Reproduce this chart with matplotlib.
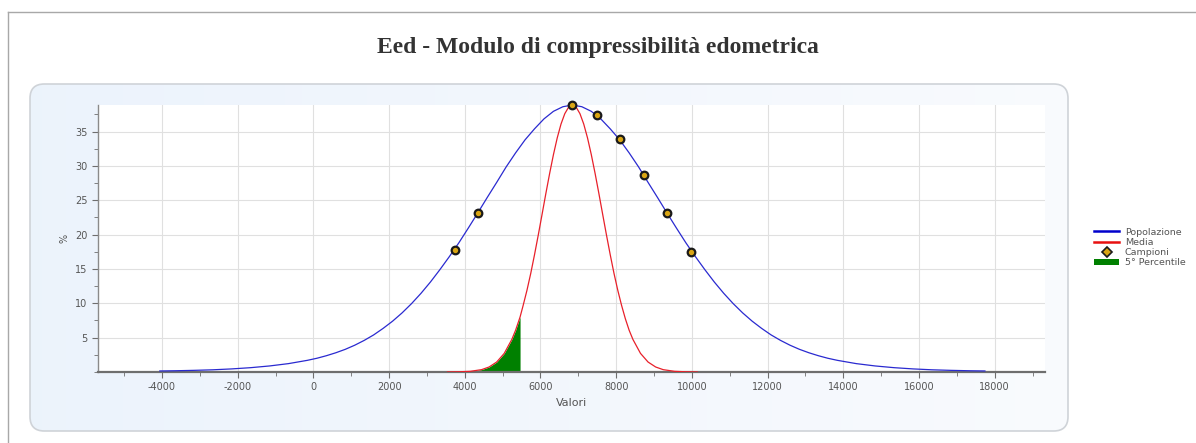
import numpy as np
import matplotlib
matplotlib.use("Agg")
import matplotlib.pyplot as plt
from matplotlib.patches import FancyBboxPatch, Patch
from matplotlib.lines import Line2D
from matplotlib.ticker import MultipleLocator, FixedLocator

plt.rcParams["axes.unicode_minus"] = False

# curva della popolazione (Popolazione)
pop_x = [-4057, -3657, -3157, -2657, -2157, -1657, -1157, -657, -157, 93, 343, 593,
         843, 1093, 1343, 1593, 1843, 2093, 2343, 2593, 2843, 3093, 3343, 3593,
         3843, 4093, 4343, 4593, 4843, 5093, 5343, 5593, 5843, 6093, 6343, 6593,
         6843,
         7093, 7343, 7593, 7843, 8093, 8343, 8593, 8843, 9093, 9343, 9593, 9843,
         10093, 10343, 10593, 10843, 11093, 11343, 11593, 11843, 12093, 12343,
         12593, 12843, 13093, 13343, 13593, 13843, 14343, 14843, 15343, 15843,
         16343, 16843, 17343, 17743]
pop_y = [0.15, 0.18, 0.24, 0.32, 0.45, 0.63, 0.88, 1.22, 1.7, 2.0, 2.37, 2.8,
         3.3, 3.9, 4.6, 5.4, 6.35, 7.4, 8.6, 9.95, 11.45, 13.1, 14.9, 16.8,
         18.8, 20.95, 23.15, 25.4, 27.6, 29.85, 31.9, 33.8, 35.4, 36.85, 37.95, 38.62,
         38.87,
         38.62, 37.95, 36.85, 35.4, 33.8, 31.9, 29.85, 27.6, 25.4, 23.15, 20.95, 18.8,
         16.8, 14.9, 13.1, 11.45, 9.95, 8.6, 7.4, 6.35, 5.4, 4.6,
         3.9, 3.3, 2.8, 2.37, 2.0, 1.7, 1.22, 0.88, 0.63, 0.45,
         0.32, 0.24, 0.18, 0.15]

# curva della media (Media)
media_x = [3543, 3843, 4143, 4443, 4643, 4843, 5043, 5243, 5343, 5461, 5543, 5643,
           5743, 5843, 5943, 6043, 6143, 6243, 6343, 6443, 6543, 6643, 6743,
           6843,
           6943, 7043, 7143, 7243, 7343, 7443, 7543, 7643, 7743, 7843, 7943, 8043,
           8143, 8243, 8343, 8443, 8643, 8843, 9043, 9243, 9543, 9843, 10143]
media_y = [0.0, 0.03, 0.1, 0.34, 0.73, 1.45, 2.71, 4.74, 6.08, 8.0, 9.7, 11.89,
           14.35, 17.08, 19.97, 22.97, 26.0, 28.92, 31.65, 34.08, 36.1, 37.61, 38.55,
           38.87,
           38.55, 37.61, 36.1, 34.08, 31.65, 28.92, 26.0, 22.97, 19.97, 17.08, 14.35, 11.89,
           9.7, 7.75, 6.08, 4.74, 2.71, 1.45, 0.73, 0.34, 0.1, 0.03, 0.0]

# campioni
camp_x = [3744, 4343, 6843, 7495, 8111, 8729, 9345, 9971]
camp_y = [17.7, 23.1, 38.87, 37.4, 33.9, 28.7, 23.2, 17.5]

p5 = 5461

xticks = [-4000, -2000, 0, 2000, 4000, 6000, 8000, 10000, 12000, 14000, 16000, 18000]
yticks = [5, 10, 15, 20, 25, 30, 35]

W, H = 1196, 443
fig = plt.figure(figsize=(W / 100, H / 100), dpi=100)
fig.patch.set_facecolor("white")

# bordo pagina
fig.add_artist(Line2D([8 / W, 1], [1 - 12 / H, 1 - 12 / H], color="#a8a8a8", lw=1, zorder=-3))
fig.add_artist(Line2D([8 / W, 8 / W], [0, 1 - 12 / H], color="#a8a8a8", lw=1, zorder=-3))

# pannello arrotondato con sfumatura
panel = FancyBboxPatch((30 / W, 12 / H), 1038 / W, 347 / H,
                       boxstyle="round,pad=0,rounding_size=0.012",
                       transform=fig.transFigure, facecolor="none",
                       edgecolor="#cfd3d8", lw=1.2, mutation_aspect=W / H, zorder=-1)
bg = fig.add_axes([0, 0, 1, 1], zorder=-2)
bg.set_axis_off()
grad = np.linspace(0, 1, 256).reshape(1, -1)
c0 = np.array([0.925, 0.953, 0.988])
c1 = np.array([0.975, 0.983, 0.995])
img = c0 + (c1 - c0) * grad[..., None]
im = bg.imshow(img, extent=[30 / W, 1068 / W, 12 / H, 359 / H], aspect="auto",
               transform=fig.transFigure)
bg.set_xlim(0, 1)
bg.set_ylim(0, 1)
fig.add_artist(panel)
im.set_clip_path(panel)

fig.text(0.5, 1 - 48 / H, "Eed - Modulo di compressibilità edometrica",
         ha="center", va="center", fontsize=17, fontweight="bold",
         family="Liberation Serif", color="#333333")

ax = fig.add_axes([98 / W, 71 / H, 947 / W, 267 / H])
ax.set_facecolor("white")

ax.plot(pop_x, pop_y, color="#2a2ad0", lw=0.9, zorder=3)
ax.plot(media_x, media_y, color="#e8202a", lw=0.9, zorder=3)
mx = np.array(media_x)
my = np.array(media_y)
ax.fill_between(mx, 0, my, where=mx <= p5, color="#008000", lw=0, zorder=2)
ax.scatter(camp_x, camp_y, s=30, marker="o", facecolor="#d9a514",
           edgecolor="#1a1a1a", linewidth=1.6, zorder=4, clip_on=False)

ax.set_xlim(-5690, 19330)
ax.set_ylim(0, 38.87)
ax.xaxis.set_major_locator(FixedLocator(xticks))
ax.xaxis.set_minor_locator(MultipleLocator(1000))
ax.yaxis.set_major_locator(FixedLocator(yticks))
ax.yaxis.set_minor_locator(MultipleLocator(2.5))
ax.grid(True, which="major", color="#e0e0e0", lw=0.8, zorder=0)

for s in ["top", "right"]:
    ax.spines[s].set_visible(False)
ax.spines["bottom"].set_color("#6e6e6e")
ax.spines["bottom"].set_linewidth(1.6)
ax.spines["left"].set_color("#8a8a8a")
ax.spines["left"].set_linewidth(1.0)
ax.tick_params(which="both", colors="#6e6e6e", labelcolor="#555555",
               labelsize=7, direction="out")
ax.tick_params(which="major", length=4)
ax.tick_params(which="minor", length=3)

ax.set_xlabel("Valori", fontsize=8, color="#555555", labelpad=4)
ax.set_ylabel("%", fontsize=7, color="#555555", labelpad=4)

handles = [
    Line2D([], [], color="#0000cc", lw=1.8),
    Line2D([], [], color="#e81010", lw=1.8),
    Line2D([], [], marker="D", ls="", markersize=5, markerfacecolor="#d9a514",
           markeredgecolor="#1a1a1a", markeredgewidth=1.2),
    Patch(facecolor="#008000"),
]
labels = ["Popolazione", "Media", "Campioni", "5° Percentile"]
leg = fig.legend(handles, labels, loc="upper left",
                 bbox_to_anchor=(1090 / W, 1 - 224 / H), frameon=False,
                 fontsize=6.8, handlelength=2.7, handleheight=0.7,
                 labelspacing=0.12, handletextpad=0.6, borderaxespad=0)
for t in leg.get_texts():
    t.set_color("#555555")

fig.savefig("out.png", dpi=100)
